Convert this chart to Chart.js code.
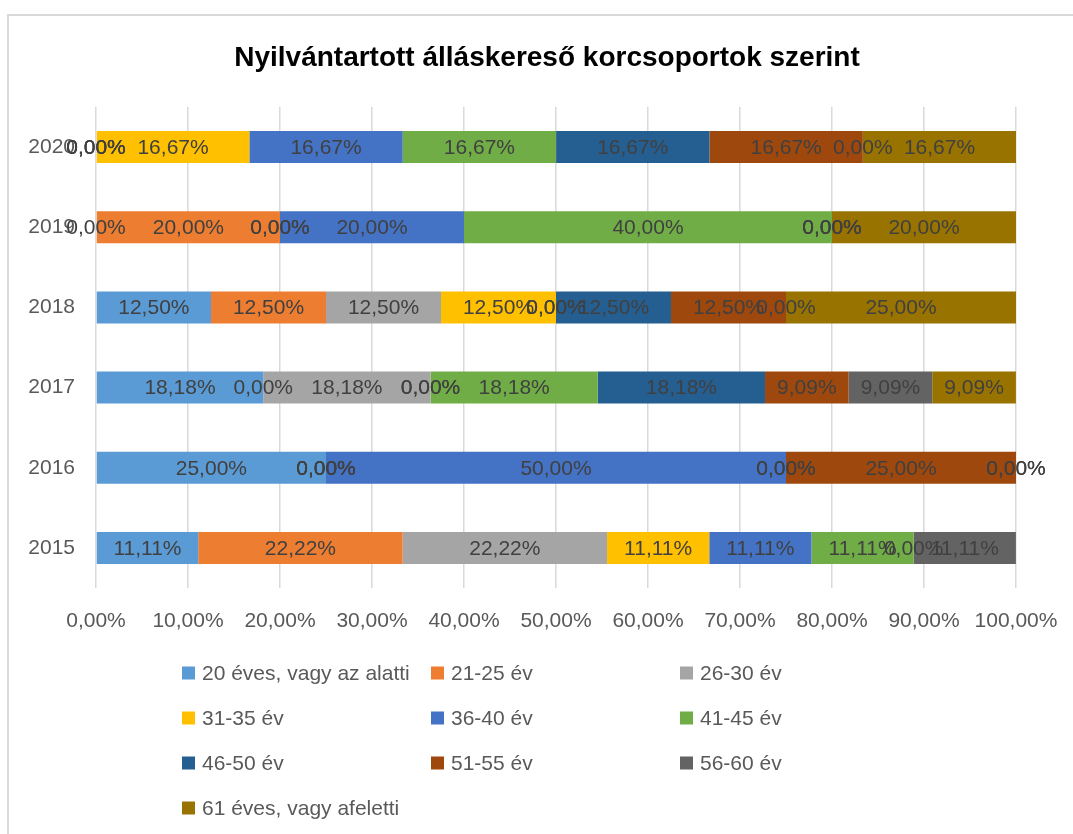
<!DOCTYPE html>
<html>
<head>
<meta charset="utf-8">
<script src="https://cdn.jsdelivr.net/npm/chart.js@4.4.0/dist/chart.umd.min.js"></script>
<style>
    html, body { margin: 0; padding: 0; background: #fff; }
    #wrap { width: 1073px; height: 834px; }
</style>
</head>
<body>
<div id="wrap"><canvas id="chart" width="1073" height="834"></canvas></div>
<script>
// years, bottom to top (axis is reversed so 2015 ends up at the bottom)
const years = ['2015', '2016', '2017', '2018', '2019', '2020'];

const seriesNames = [
    '20 éves, vagy az alatti', '21-25 év', '26-30 év', '31-35 év', '36-40 év',
    '41-45 év', '46-50 év', '51-55 év', '56-60 év', '61 éves, vagy afeletti'
];
const seriesColors = [
    '#5B9BD5', '#ED7D31', '#A5A5A5', '#FFC000', '#4472C4',
    '#70AD47', '#255E91', '#9E480E', '#636363', '#997300'
];

// shares in percent, per year (2015..2020); null = no value in that year
const age20    = [11.11, 25.00, 18.18, 12.50,  0.00,  0.00];
const age21_25 = [22.22,  0.00,  0.00, 12.50, 20.00,  0.00];
const age26_30 = [22.22,  0.00, 18.18, 12.50,  0.00,  0.00];
const age31_35 = [11.11,  0.00,  0.00, 12.50,  0.00, 16.67];
const age36_40 = [11.11, 50.00,  0.00,  0.00, 20.00, 16.67];
const age41_45 = [11.11,  0.00, 18.18,  0.00, 40.00, 16.67];
const age46_50 = [ 0.00,  0.00, 18.18, 12.50,  0.00, 16.67];
const age51_55 = [ null, 25.00,  9.09, 12.50,  0.00, 16.67];
const age56_60 = [11.11,  0.00,  9.09,  0.00,  0.00,  0.00];
const age61    = [ null,  0.00,  9.09, 25.00, 20.00, 16.67];

const seriesValues = [age20, age21_25, age26_30, age31_35, age36_40,
                      age41_45, age46_50, age51_55, age56_60, age61];

const xTickStep = 10;
const chartTitle = 'Nyilvántartott álláskereső korcsoportok szerint';

const FONT = '"Liberation Sans", Arial, sans-serif';
Chart.defaults.font.family = FONT;

function pct(v) {
    return v.toFixed(2).replace('.', ',') + '%';
}

// white background + the light frame of the chart box
const framePlugin = {
    id: 'frame',
    beforeDraw(chart) {
        const ctx = chart.ctx;
        ctx.save();
        ctx.fillStyle = '#fff';
        ctx.fillRect(0, 0, chart.width, chart.height);
        ctx.strokeStyle = '#d9d9d9';
        ctx.lineWidth = 2;
        ctx.beginPath();
        ctx.moveTo(8, chart.height);
        ctx.lineTo(8, 15);
        ctx.lineTo(chart.width, 15);
        ctx.stroke();
        ctx.restore();
    }
};

// value labels centred in every segment (zeros sit on the segment border)
const labelPlugin = {
    id: 'segLabels',
    afterDatasetsDraw(chart) {
        const ctx = chart.ctx;
        ctx.save();
        ctx.font = '21px ' + FONT;
        ctx.fillStyle = '#404040';
        ctx.textAlign = 'center';
        ctx.textBaseline = 'middle';
        chart.data.datasets.forEach((ds, i) => {
            const meta = chart.getDatasetMeta(i);
            meta.data.forEach((bar, j) => {
                const v = ds.data[j];
                if (v === null || v === undefined) return;
                const cx = (bar.x + bar.base) / 2;
                ctx.fillText(pct(v), cx, bar.y + 1);
            });
        });
        ctx.restore();
    }
};

// title and the three-column legend underneath
const titleLegendPlugin = {
    id: 'titleLegend',
    afterDraw(chart) {
        const ctx = chart.ctx;
        ctx.save();
        ctx.fillStyle = '#000';
        ctx.font = 'bold 28px ' + FONT;
        ctx.textAlign = 'center';
        ctx.textBaseline = 'alphabetic';
        ctx.fillText(chartTitle, 547, 66);

        const colX = [182, 431, 680];
        const rowY = [673, 718, 763, 808];
        ctx.font = '21px ' + FONT;
        ctx.textAlign = 'left';
        ctx.textBaseline = 'middle';
        chart.data.datasets.forEach((ds, i) => {
            const x = colX[i % 3];
            const y = rowY[Math.floor(i / 3)];
            ctx.fillStyle = ds.backgroundColor;
            ctx.fillRect(x, y - 6.5, 13, 13);
            ctx.fillStyle = '#595959';
            ctx.fillText(ds.label, x + 20, y + 1);
        });
        ctx.restore();
    }
};

const datasets = seriesNames.map((name, i) => ({
    label: name,
    data: seriesValues[i],
    backgroundColor: seriesColors[i],
    borderWidth: 0,
    barPercentage: 0.4,
    categoryPercentage: 1.0
}));

new Chart(document.getElementById('chart'), {
    type: 'bar',
    data: { labels: years, datasets: datasets },
    options: {
        indexAxis: 'y',
        responsive: false,
        animation: false,
        devicePixelRatio: 1,
        layout: { padding: { left: 0, right: 57, top: 107, bottom: 196 } },
        plugins: {
            legend: { display: false },
            title: { display: false },
            tooltip: { enabled: false }
        },
        scales: {
            x: {
                stacked: true,
                min: 0,
                max: 100,
                ticks: {
                    stepSize: xTickStep,
                    color: '#595959',
                    font: { size: 21 },
                    padding: 21,
                    maxRotation: 0,
                    callback: v => pct(v)
                },
                grid: { color: '#d9d9d9', lineWidth: 1.5, drawTicks: false },
                border: { display: false },
                afterFit: s => {
                    s.height = 50;
                    // let the last tick label hang over the edge like in the original
                    s.paddingLeft = 0;
                    s.paddingRight = 0;
                }
            },
            y: {
                stacked: true,
                reverse: true,
                ticks: { color: '#595959', font: { size: 21 }, padding: 21 },
                grid: { display: false, drawTicks: false },
                border: { display: false },
                afterFit: s => { s.width = 96; }
            }
        }
    },
    plugins: [framePlugin, labelPlugin, titleLegendPlugin]
});
</script>
</body>
</html>
